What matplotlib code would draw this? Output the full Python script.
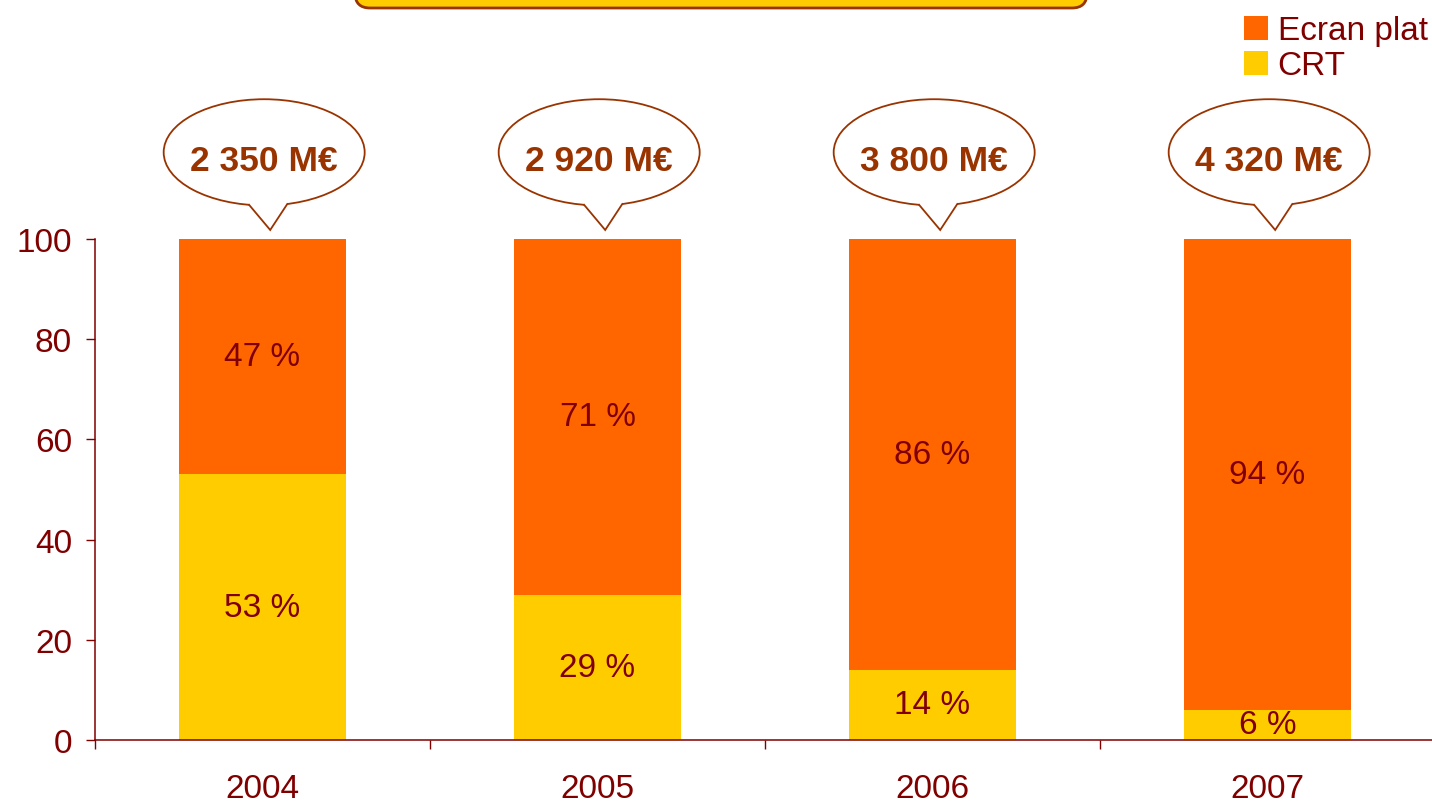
import numpy as np
import matplotlib
matplotlib.use("Agg")
import matplotlib.pyplot as plt
from matplotlib import font_manager
from matplotlib.patches import Ellipse, Polygon, FancyBboxPatch, Patch

plt.rcParams['font.family'] = ['Liberation Sans', 'DejaVu Sans']

years = ["2004", "2005", "2006", "2007"]
crt = [53, 29, 14, 6]
ecran_plat = [47, 71, 86, 94]
totals = ["2 350 M€", "2 920 M€", "3 800 M€", "4 320 M€"]

ORANGE = "#FF6600"
YELLOW = "#FFCC00"
DARKRED = "#800000"
BROWN = "#993300"

# bubble font: narrow bold if installed, else regular bold a bit smaller
names = {f.name for f in font_manager.fontManager.ttflist}
if "Liberation Sans Narrow" in names:
    bubble_family, bubble_size = "Liberation Sans Narrow", 30
else:
    bubble_family, bubble_size = "Liberation Sans", 25.5

fig = plt.figure(figsize=(14.32, 8.03), dpi=100)
ax = fig.add_axes([95 / 1432, 62 / 803, 1340 / 1432, 501 / 803])

x = np.arange(len(years))
b1 = ax.bar(x, crt, width=0.5, color=YELLOW, label="CRT")
b2 = ax.bar(x, ecran_plat, width=0.5, bottom=crt, color=ORANGE, label="Ecran plat")
ax.bar_label(b1, labels=[f"{v} %" for v in crt], label_type="center",
             fontsize=24, color=DARKRED)
ax.bar_label(b2, labels=[f"{v} %" for v in ecran_plat], label_type="center",
             fontsize=24, color=DARKRED)

ax.set_xlim(-0.5, len(years) - 0.5)
ax.set_ylim(0, 100)
ax.set_yticks(range(0, 101, 20))
ax.set_xticks(np.arange(len(years) + 1) - 0.5)
ax.set_xticklabels([])
ax.set_xticks(x, minor=True)
ax.set_xticklabels(years, minor=True)
ax.tick_params(axis="x", which="major", direction="out", length=6.5, width=1, color=DARKRED)
ax.tick_params(axis="x", which="minor", length=0, pad=24, labelsize=24, labelcolor=DARKRED)
ax.tick_params(axis="y", direction="out", length=6.5, width=1, color=DARKRED,
               pad=10, labelsize=24, labelcolor=DARKRED)
for s in ["top", "right"]:
    ax.spines[s].set_visible(False)
for s in ["left", "bottom"]:
    ax.spines[s].set_color(DARKRED)
    ax.spines[s].set_linewidth(1.1)

# speech bubbles with the market totals
a, b = 0.3, 10.6
for i, txt in enumerate(totals):
    cx = x[i] + 0.005
    cy = 117.3
    ell = Ellipse((cx, cy), 2 * a, 2 * b, facecolor="white", edgecolor=BROWN,
                  linewidth=1.3, clip_on=False, zorder=5)
    ax.add_patch(ell)
    dl, dr = -0.045, 0.069
    yl = cy - b * np.sqrt(1 - (dl / a) ** 2)
    yr = cy - b * np.sqrt(1 - (dr / a) ** 2)
    tip = (cx + 0.018, 101.8)
    cover = Polygon([(cx + dl, yl + 1.2), (cx + dl, yl), tip, (cx + dr, yr), (cx + dr, yr + 1.2)],
                    closed=True, facecolor="white", edgecolor="none", clip_on=False, zorder=6)
    ax.add_patch(cover)
    ax.plot([cx + dl, tip[0], cx + dr], [yl, tip[1], yr], color=BROWN, linewidth=1.3,
            clip_on=False, zorder=7, solid_joinstyle="miter")
    ax.text(cx, cy - 1.6, txt, ha="center", va="center", fontsize=bubble_size, fontweight="bold",
            color=BROWN, family=[bubble_family, "DejaVu Sans"], zorder=8, clip_on=False)

# cropped title box at the top
r = 0.15
box = FancyBboxPatch((3.55 + r, 7.94 + r), 7.32 - 2 * r, 1.0, boxstyle=f"round,pad={r}",
                     transform=fig.dpi_scale_trans, facecolor=YELLOW, edgecolor=BROWN,
                     linewidth=2)
fig.patches.append(box)

handles = [Patch(facecolor=ORANGE, label="Ecran plat"), Patch(facecolor=YELLOW, label="CRT")]
fig.legend(handles=handles, loc="upper right", bbox_to_anchor=(1.004, 0.992), frameon=False,
           fontsize=24, labelcolor=DARKRED, handlelength=0.72, handleheight=0.72,
           handletextpad=0.3, labelspacing=0.12, borderaxespad=0.1, borderpad=0.2)

fig.savefig("out.png", dpi=100)
